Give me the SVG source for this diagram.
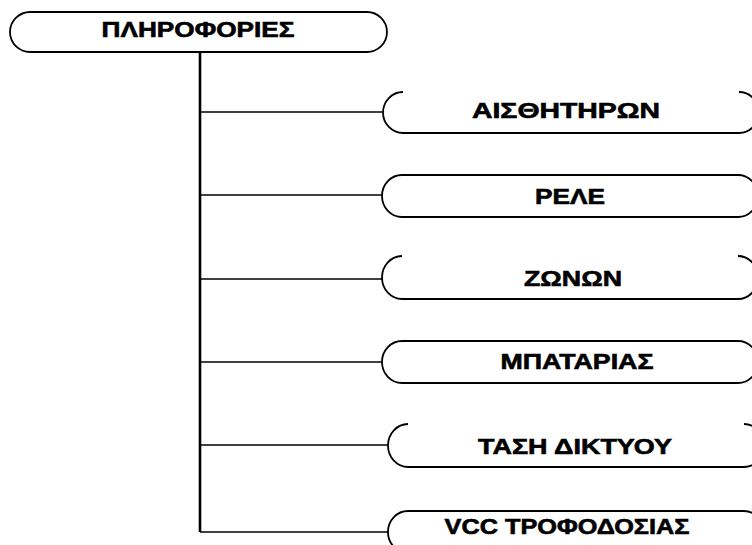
<svg xmlns="http://www.w3.org/2000/svg" width="752" height="545" viewBox="0 0 752 545">
  <style>
    .box { fill: none; stroke: #000; stroke-width: 1.8; }
    .trunk { fill: none; stroke: #000; stroke-width: 2.6; }
    .branch { fill: none; stroke: #000; stroke-width: 1.6; }
    .label { font-family: "Liberation Sans", Arial, sans-serif; font-weight: bold; font-size: 22px; fill: #000; stroke: #000; stroke-width: 0.6; text-anchor: middle; }
  </style>
  <rect width="752" height="545" fill="#fff"/>

  <g id="connectors">
    <path class="trunk" d="M200,52 V532"/>
    <path class="branch" d="M200,112 H383"/>
    <path class="branch" d="M200,195 H382"/>
    <path class="branch" d="M200,279 H382"/>
    <path class="branch" d="M200,362 H382"/>
    <path class="branch" d="M200,445 H388"/>
    <path class="branch" d="M200,532 H388"/>
  </g>

  <g id="root">
    <rect class="box" x="10" y="12" width="377" height="40" rx="20" ry="20"/>
    <text class="label" transform="translate(198,37) scale(1.15,1)" textLength="167.8" lengthAdjust="spacingAndGlyphs">ΠΛΗΡΟΦΟΡΙΕΣ</text>
  </g>

  <g id="sensors">
    <path class="box" d="M739,92 A20,20.5 0 0 1 739,133 H403 A20,20.5 0 0 1 403,92"/>
    <text class="label" transform="translate(566,118) scale(1.15,1)" textLength="163.5" lengthAdjust="spacingAndGlyphs">ΑΙΣΘΗΤΗΡΩΝ</text>
  </g>

  <g id="relay">
    <rect class="box" x="382" y="175" width="376" height="42" rx="20" ry="21"/>
    <text class="label" transform="translate(570,203.5) scale(1.15,1)" textLength="60.9" lengthAdjust="spacingAndGlyphs">ΡΕΛΕ</text>
  </g>

  <g id="zones">
    <path class="box" d="M738,256 A20,21.5 0 0 1 738,299 H402 A20,21.5 0 0 1 402,256"/>
    <text class="label" transform="translate(573,286) scale(1.15,1)" textLength="85.2" lengthAdjust="spacingAndGlyphs">ΖΩΝΩΝ</text>
  </g>

  <g id="battery">
    <rect class="box" x="382" y="341" width="376" height="42" rx="20" ry="21"/>
    <text class="label" transform="translate(577,369) scale(1.15,1)" textLength="133" lengthAdjust="spacingAndGlyphs">ΜΠΑΤΑΡΙΑΣ</text>
  </g>

  <g id="mains">
    <path class="box" d="M744,424 A20,21.5 0 0 1 744,467 H408 A20,21.5 0 0 1 408,424"/>
    <text class="label" transform="translate(575,453.5) scale(1.15,1)" textLength="168.7" lengthAdjust="spacingAndGlyphs">ΤΑΣΗ ΔΙΚΤΥΟΥ</text>
  </g>

  <g id="vcc">
    <rect class="box" x="388" y="511" width="376" height="42" rx="20" ry="21"/>
    <text class="label" transform="translate(567,534) scale(1.15,1)" textLength="213" lengthAdjust="spacingAndGlyphs">VCC ΤΡΟΦΟΔΟΣΙΑΣ</text>
  </g>
</svg>
